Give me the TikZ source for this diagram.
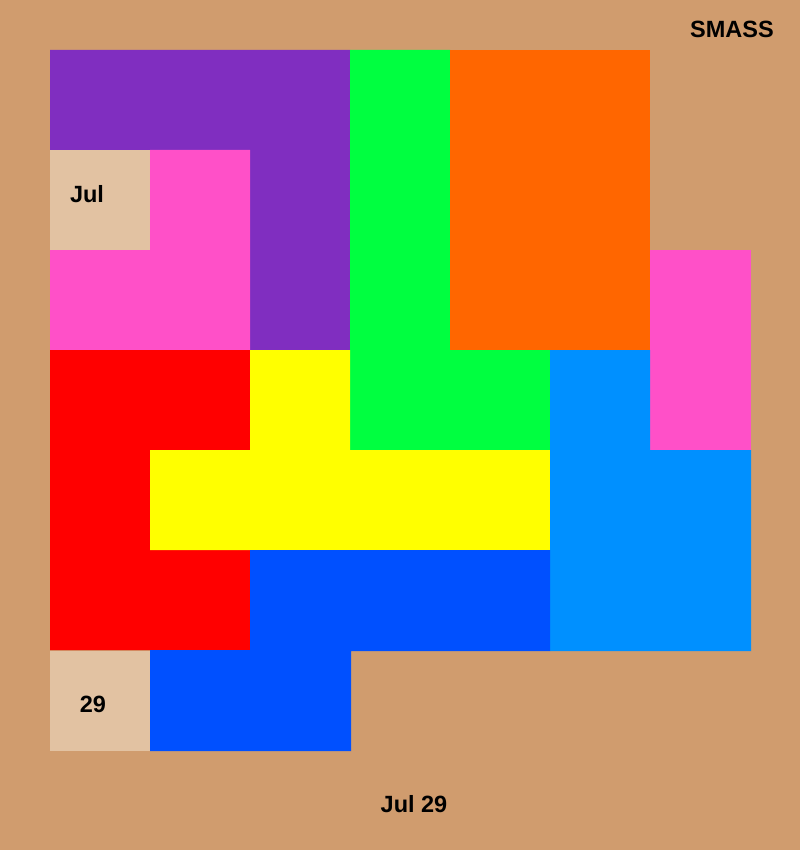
\documentclass[tikz,border=0pt]{standalone}
\usepackage{fontspec}
\setmainfont{Liberation Sans}
\definecolor{bg}{HTML}{D09C6E}
\definecolor{cell}{HTML}{E2C2A2}
\definecolor{pur}{HTML}{802EC0}
\definecolor{grn}{HTML}{00FF40}
\definecolor{org}{HTML}{FF6600}
\definecolor{pnk}{HTML}{FF50C8}
\definecolor{rd}{HTML}{FF0000}
\definecolor{ylw}{HTML}{FFFF00}
\definecolor{skyb}{HTML}{0090FF}
\definecolor{blu}{HTML}{0050FF}
\tikzset{txtlbl/.style={font=\bfseries\fontsize{23.5}{28}\selectfont, text=black, inner sep=0pt}}
\begin{document}
\begin{tikzpicture}[x=1pt,y=-1pt]
\fill[bg] (0,0) rectangle (800,850);
\useasboundingbox (0,0) rectangle (800,850);
\fill[pur] (50,50) -- (350,50) -- (350,350) -- (250,350) -- (250,150) -- (50,150) -- cycle;
\fill[grn] (350,50) -- (450,50) -- (450,350) -- (550,350) -- (550,450) -- (350,450) -- cycle;
\fill[org] (450,50) rectangle (650,350);
\fill[pnk] (150,150) -- (250,150) -- (250,350) -- (50,350) -- (50,250) -- (150,250) -- cycle;
\fill[pnk] (650,250) rectangle (751,450);
\fill[rd] (50,350) -- (250,350) -- (250,450) -- (150,450) -- (150,550) -- (250,550) -- (250,650) -- (50,650) -- cycle;
\fill[ylw] (250,350) -- (350,350) -- (350,450) -- (550,450) -- (550,550) -- (150,550) -- (150,450) -- (250,450) -- cycle;
\fill[skyb] (550,350) -- (650,350) -- (650,450) -- (751,450) -- (751,651) -- (550,651) -- cycle;
\fill[blu] (250,550) -- (550,550) -- (550,651) -- (351,651) -- (351,751) -- (150,751) -- (150,650) -- (250,650) -- cycle;
\fill[cell] (50,150) rectangle (150,250);
\fill[cell] (50,651) rectangle (150,751);
\node[txtlbl] (jul) at (87,194) {Jul};
\node[txtlbl] (d29) at (93,704) {29};
\node[txtlbl] (title) at (732,29) {SMASS};
\node[txtlbl] (date) at (414,804) {Jul 29};
\end{tikzpicture}
\end{document}
